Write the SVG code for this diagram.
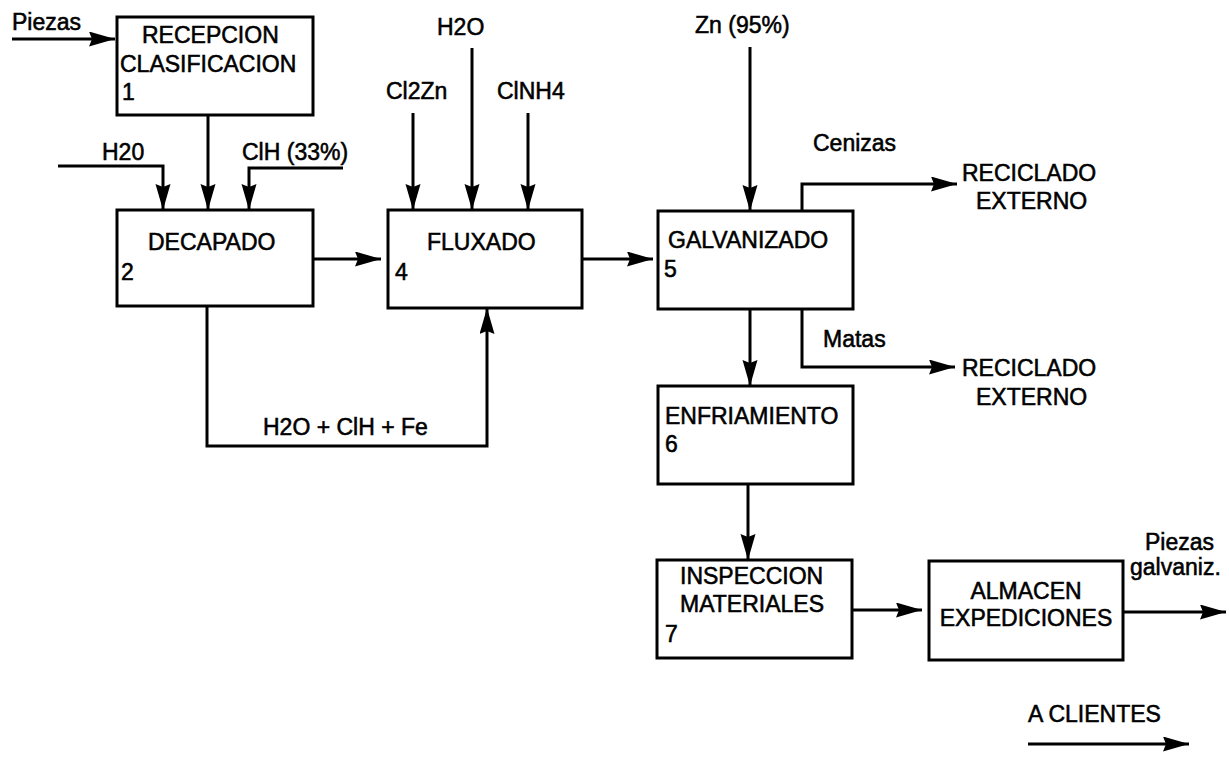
<svg xmlns="http://www.w3.org/2000/svg" width="1229" height="757" viewBox="0 0 1229 757">
<style>
text{font-family:"Liberation Sans",Arial,Helvetica,sans-serif;font-size:23px;fill:#000;stroke:#000;stroke-width:0.55}
.box{fill:#fff;stroke:#000;stroke-width:3}
.ln{fill:none;stroke:#000;stroke-width:3;marker-end:url(#ah)}
.mid{text-anchor:middle}
</style>
<defs>
<marker id="ah" markerUnits="userSpaceOnUse" markerWidth="28" markerHeight="16" refX="26" refY="7.5" orient="auto">
<path d="M0,0 L26,7.5 L0,15 L3,7.5 z" fill="#000"/>
</marker>
</defs>
<rect width="1229" height="757" fill="#fff"/>

<g id="connectors">
<path class="ln" d="M12,39 H115"/>
<path class="ln" d="M208,115 V210"/>
<path class="ln" d="M58,166 H163 V210"/>
<path class="ln" d="M343,168 H249 V210"/>
<path class="ln" d="M313,259 H381"/>
<path class="ln" d="M413,113 V210"/>
<path class="ln" d="M472,48 V210"/>
<path class="ln" d="M528,113 V210"/>
<path class="ln" d="M207,306 V446 H487 V308"/>
<path class="ln" d="M582,259 H653"/>
<path class="ln" d="M750,47 V211"/>
<path class="ln" d="M802,211 V184 H957"/>
<path class="ln" d="M802,309 V367 H955"/>
<path class="ln" d="M750,309 V386"/>
<path class="ln" d="M748,484 V560"/>
<path class="ln" d="M852,610 H922"/>
<path class="ln" d="M1123,612 H1226"/>
<path class="ln" d="M1028,744 H1189"/>
</g>

<g id="labels">
<text x="12" y="30">Piezas</text>
<text x="102" y="160">H20</text>
<text x="242" y="160">ClH (33%)</text>
<text x="437" y="35">H2O</text>
<text x="386" y="99">Cl2Zn</text>
<text x="497" y="99">ClNH4</text>
<text x="263" y="435">H2O + ClH + Fe</text>
<text x="695" y="33">Zn (95%)</text>
<text x="813" y="151">Cenizas</text>
<text x="823" y="347">Matas</text>
<text x="962" y="181">RECICLADO</text>
<text x="976" y="209">EXTERNO</text>
<text x="962" y="376">RECICLADO</text>
<text x="976" y="405">EXTERNO</text>
<text x="1145" y="550">Piezas</text>
<text x="1130" y="575">galvaniz.</text>
<text x="1028" y="722">A CLIENTES</text>
</g>

<g id="node1">
<rect class="box" x="117" y="17" width="196" height="98"/>
<text x="142" y="43">RECEPCION</text>
<text x="120" y="72">CLASIFICACION</text>
<text x="122" y="100">1</text>
</g>
<g id="node2">
<rect class="box" x="117" y="210" width="196" height="96"/>
<text x="148" y="250">DECAPADO</text>
<text x="121" y="280">2</text>
</g>
<g id="node4">
<rect class="box" x="388" y="210" width="194" height="98"/>
<text x="427" y="250">FLUXADO</text>
<text x="395" y="280">4</text>
</g>
<g id="node5">
<rect class="box" x="658" y="211" width="195" height="98"/>
<text x="668" y="248">GALVANIZADO</text>
<text x="664" y="277">5</text>
</g>
<g id="node6">
<rect class="box" x="658" y="386" width="195" height="98"/>
<text x="665" y="424">ENFRIAMIENTO</text>
<text x="665" y="452">6</text>
</g>
<g id="node7">
<rect class="box" x="657" y="560" width="195" height="98"/>
<text x="680" y="584">INSPECCION</text>
<text x="680" y="612">MATERIALES</text>
<text x="665" y="642">7</text>
</g>
<g id="node8">
<rect class="box" x="929" y="561" width="194" height="99"/>
<text class="mid" x="1026" y="599">ALMACEN</text>
<text class="mid" x="1026" y="626">EXPEDICIONES</text>
</g>
</svg>
